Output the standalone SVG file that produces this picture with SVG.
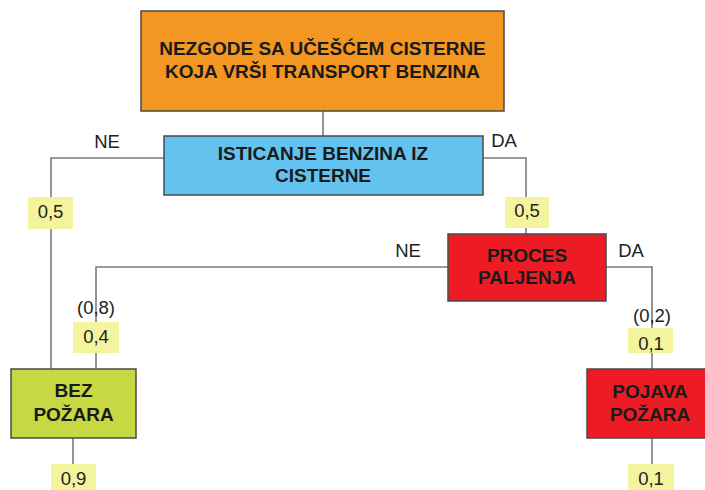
<svg xmlns="http://www.w3.org/2000/svg" width="705" height="490" viewBox="0 0 705 490">
<style>
.box{stroke:#4a4a4a;stroke-width:1.5}
.t{font-family:"Liberation Sans",Arial,sans-serif;font-weight:bold;font-size:19px;fill:#1a1a1a;text-anchor:middle}
.l{font-family:"Liberation Sans",Arial,sans-serif;font-size:18.5px;fill:#222;text-anchor:middle}
.y{fill:#f5f49e}
.c{fill:none;stroke:#7a7a7a;stroke-width:1.6}
</style>
<rect width="705" height="490" fill="#ffffff"/>
<g id="connectors">
<path class="c" d="M323 111V136"/>
<path class="c" d="M164 158H51V369"/>
<path class="c" d="M483 158H526V234"/>
<path class="c" d="M448 267H96V369"/>
<path class="c" d="M606 267H652V369"/>
<path class="c" d="M73 438V464"/>
<path class="c" d="M652 438V464"/>
</g>
<g id="labels">
<text class="l" x="107" y="148">NE</text>
<text class="l" x="504" y="147">DA</text>
<text class="l" x="408" y="257">NE</text>
<text class="l" x="631" y="257">DA</text>
<text class="l" x="96" y="314">(0,8)</text>
<text class="l" x="652" y="322">(0,2)</text>
</g>
<g id="p1"><rect class="y" x="28" y="197" width="45" height="32"/><text class="l" x="50.5" y="218">0,5</text></g>
<g id="p2"><rect class="y" x="505" y="197" width="44" height="31"/><text class="l" x="527" y="217">0,5</text></g>
<g id="p3"><rect class="y" x="73" y="322" width="46" height="31"/><text class="l" x="96" y="343">0,4</text></g>
<g id="p4"><rect class="y" x="628" y="328" width="45" height="25"/><text class="l" x="651" y="350">0,1</text></g>
<g id="p5"><rect class="y" x="51" y="464" width="45" height="30"/><text class="l" x="73.5" y="485">0,9</text></g>
<g id="p6"><rect class="y" x="628" y="464" width="46" height="30"/><text class="l" x="651" y="485">0,1</text></g>
<g id="nezgode"><rect class="box" x="141" y="11" width="363" height="100" fill="#f39722"/>
<text class="t" x="322.5" y="55">NEZGODE SA UČEŠĆEM CISTERNE</text>
<text class="t" x="322.5" y="78">KOJA VRŠI TRANSPORT BENZINA</text></g>
<g id="isticanje"><rect class="box" x="164" y="136" width="319" height="59" fill="#63c3ee"/>
<text class="t" x="323" y="160">ISTICANJE BENZINA IZ</text>
<text class="t" x="323" y="182">CISTERNE</text></g>
<g id="proces"><rect class="box" x="448" y="234" width="158" height="67" fill="#ed1c24"/>
<text class="t" x="527" y="262">PROCES</text>
<text class="t" x="527" y="284">PALJENJA</text></g>
<g id="bez"><rect class="box" x="11" y="369" width="125" height="69" fill="#c6d943"/>
<text class="t" x="73.5" y="397">BEZ</text>
<text class="t" x="73.5" y="421">POŽARA</text></g>
<g id="pojava"><rect class="box" x="587" y="369" width="126" height="69" fill="#ed1c24"/>
<text class="t" x="650" y="398">POJAVA</text>
<text class="t" x="650" y="421">POŽARA</text></g>
</svg>
